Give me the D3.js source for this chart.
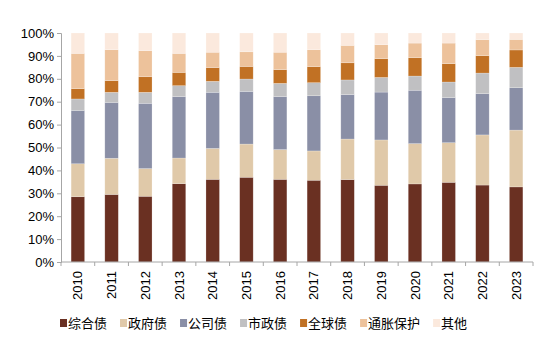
<!DOCTYPE html>
<html><head><meta charset="utf-8">
<script src="https://cdn.jsdelivr.net/npm/d3@7"></script>
<style>body{margin:0;background:#fff;}svg{display:block;}</style>
</head><body>
<svg id="c" width="558" height="358"></svg>
<script>
const years = ["2010","2011","2012","2013","2014","2015","2016","2017","2018","2019","2020","2021","2022","2023"];
const seriesNames = ["综合债","政府债","公司债","市政债","全球债","通胀保护","其他"];
const colors = ["#6A3022","#E0C9A9","#8A8FA6","#C0C0C2","#C17124","#EDC29B","#FBE9DD"];
// shares in %
const aggregate = [28.5,29.5,28.7,34.2,36.1,37.0,36.1,35.7,36.0,33.5,34.1,34.8,33.6,32.8];
const government = [14.4,15.8,12.1,11.2,13.5,14.5,13.0,12.8,17.7,19.8,17.6,17.3,21.9,24.8];
const corporate = [23.3,24.4,28.5,26.8,24.5,23.0,23.1,24.1,19.4,20.9,23.3,19.7,18.0,18.5];
const municipal = [5.0,4.4,4.8,4.8,4.8,5.4,5.8,5.7,6.4,6.4,6.2,6.8,9.0,8.9];
const globalBond = [4.5,5.1,6.8,5.8,6.0,5.5,6.0,7.0,7.5,8.2,8.0,8.0,7.6,7.6];
const inflation = [15.4,13.5,11.4,8.3,6.7,6.4,7.6,7.4,7.6,6.1,6.4,9.0,7.0,4.6];
const other = [8.9,7.3,7.7,8.9,8.4,8.2,8.4,7.3,5.4,5.1,4.4,4.4,2.9,2.8];
const seriesValues = [aggregate,government,corporate,municipal,globalBond,inflation,other];
const yTicks = [0,0.1,0.2,0.3,0.4,0.5,0.6,0.7,0.8,0.9,1.0];

const svg = d3.select("#c");
const mLeft = 61, mRight = 533, mTop = 33, mBottom = 262;
const axisColor = "#A6A6A6";
const font = "'Liberation Sans', Arial, 'Noto Sans CJK SC', sans-serif";

const x = d3.scaleBand().domain(years).range([mLeft, mRight]).paddingInner(0.6).paddingOuter(0.3);
const y = d3.scaleLinear().domain([0,1]).range([mBottom, mTop]);

const rows = years.map((yr,i) => {
  const o = {year: yr};
  seriesNames.forEach((s,k) => o[s] = seriesValues[k][i]);
  return o;
});
rows.forEach(r => { const t = d3.sum(seriesNames, s => r[s]); seriesNames.forEach(s => r[s] = r[s]/t); });
const stacked = d3.stack().keys(seriesNames)(rows);

svg.append("g").selectAll("g").data(stacked).join("g")
  .attr("fill", (d,i) => colors[i])
  .selectAll("rect").data(d => d).join("rect")
  .attr("x", d => x(d.data.year))
  .attr("width", x.bandwidth())
  .attr("y", d => y(d[1]))
  .attr("height", d => y(d[0]) - y(d[1]))
  .attr("stroke", "rgba(255,255,255,0.35)")
  .attr("stroke-width", 0.6);

// Y axis
const yAxis = svg.append("g").attr("transform", `translate(${mLeft},0)`)
  .call(d3.axisLeft(y).tickValues(yTicks).tickFormat(d3.format(".0%")).tickSize(4).tickPadding(3));
yAxis.select(".domain").attr("stroke", axisColor);
yAxis.selectAll(".tick line").attr("stroke", axisColor);
yAxis.selectAll("text").attr("font-family", font).attr("font-size", 13).attr("fill", "#000");

// X axis
const xg = svg.append("g").attr("transform", `translate(0,${mBottom})`);
xg.append("line").attr("x1", mLeft).attr("x2", mRight).attr("stroke", axisColor);
const step = x.step();
const bounds = d3.range(years.length + 1).map(i => x(years[0]) - x.paddingOuter()*step + i*step);
xg.selectAll("line.tk").data(bounds).join("line").attr("class","tk")
  .attr("x1", d => d).attr("x2", d => d).attr("y1", 0).attr("y2", 4).attr("stroke", axisColor);
xg.selectAll("text").data(years).join("text")
  .attr("transform", d => `translate(${x(d) + x.bandwidth()/2 + 4.5},9) rotate(-90)`)
  .attr("text-anchor", "end")
  .attr("font-family", font).attr("font-size", 13).attr("fill", "#000")
  .text(d => d);

// Legend
const lg = svg.append("g").attr("transform", "translate(60,323)");
let cx = 0;
seriesNames.forEach((s,i) => {
  const g = lg.append("g").attr("transform", `translate(${cx},0)`);
  g.append("rect").attr("x", 0).attr("y", -4).attr("width", 7).attr("height", 8).attr("fill", colors[i]);
  const t = g.append("text").attr("x", 8).attr("y", 0).attr("dy", "0.35em")
    .attr("font-family", "'Noto Sans CJK SC', sans-serif").attr("font-size", 13).attr("fill", "#000")
    .text(s);
  cx += 8 + t.node().getComputedTextLength() + 13;
});
</script>
</body></html>
